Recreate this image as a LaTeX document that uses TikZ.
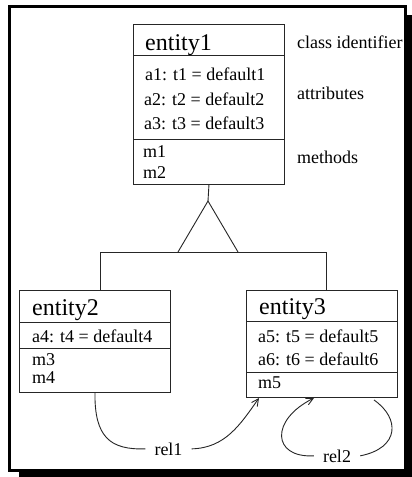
\documentclass[tikz,border=0pt]{standalone}
\usepackage{fontspec}
\setmainfont{Liberation Serif}
\usetikzlibrary{arrows.meta}
\begin{document}
\begin{tikzpicture}[x=1pt,y=-1pt,
  comp/.style={draw=black!85, line width=0.9pt, minimum width=151pt, inner sep=0pt, anchor=north west},
  big/.style={font=\fontsize{24}{28}\selectfont, anchor=base west, inner sep=0pt},
  txt/.style={font=\fontsize{18}{21}\selectfont, anchor=base west, inner sep=0pt},
  conn/.style={line width=0.9pt, draw=black!85},
  tip/.style={-{Straight Barb[length=7pt,width=7pt]}},
  rel/.style={font=\fontsize{18}{21}\selectfont, anchor=base, inner ysep=2pt, inner xsep=9pt}]
\useasboundingbox (0,0) rectangle (412,477);
% frame with shadow
\fill[black] (19,15) rectangle (412,477);
\draw[line width=3pt, fill=white] (9.5,6.5) rectangle (405.5,470.5);

% entity1
\node[comp, minimum height=31pt] (e1h) at (133,24) {};
\node[comp, minimum height=84pt] (e1a) at (133,55) {};
\node[comp, minimum height=45pt] (e1m) at (133,139) {};
\node[big] (n1) at (145,50) {entity1};
\node[txt] (a1) at (145,80) {a1: t1 = default1};
\node[txt] (a2) at (144,105) {a2: t2 = default2};
\node[txt] (a3) at (144,129) {a3: t3 = default3};
\node[txt] (m1) at (143,157) {m1};
\node[txt] (m2) at (143,178) {m2};
\node[txt] (lc) at (297,48) {class identifier};
\node[txt] (la) at (297,99) {attributes};
\node[txt] (lm) at (297,163) {methods};

% entity2
\node[comp, minimum height=32pt] (e2h) at (19,290) {};
\node[comp, minimum height=26pt] (e2a) at (19,322) {};
\node[comp, minimum height=44pt] (e2m) at (19,348) {};
\node[big] (n2) at (32,315) {entity2};
\node[txt] (a4) at (32,342) {a4: t4 = default4};
\node[txt] (m3) at (32,365) {m3};
\node[txt] (m4) at (32,383) {m4};

% entity3
\node[comp, minimum height=31pt] (e3h) at (246,290) {};
\node[comp, minimum height=51pt] (e3a) at (246,321) {};
\node[comp, minimum height=25pt] (e3m) at (246,372) {};
\node[big] (n3) at (259,314) {entity3};
\node[txt] (a5) at (258,342) {a5: t5 = default5};
\node[txt] (a6) at (258,365) {a6: t6 = default6};
\node[txt] (m5) at (258,388) {m5};

% inheritance
\coordinate (apex) at (208,201);
\coordinate (bl) at (178,252);
\coordinate (br) at (238,252);
\coordinate (hl) at (100,252);
\coordinate (hr) at (326,252);
\draw[conn] (e1m.south) -- (apex);
\draw[conn] (bl) -- (apex) -- (br);
\draw[conn] (hl) -- (hr);
\draw[conn] (hl) -- (hl |- e2h.north);
\draw[conn] (hr) -- (hr |- e3h.north);

% relationships
\node[rel] (r1) at (168.5,455) {rel1};
\coordinate (t1) at (259,398);
\draw[conn] (e2m.south) .. controls (94.5,437) and (110,450) .. (r1.west);
\draw[conn,tip] (r1.east) .. controls (225,448) and (240,425) .. (t1);

\node[rel] (r2) at (337,462) {rel2};
\coordinate (s2) at (374,400);
\coordinate (t2) at (314,398);
\draw[conn] (s2) .. controls (400,418) and (400,448) .. (r2.east);
\draw[conn,tip] (r2.west) .. controls (272,458) and (270,420) .. (t2);
\end{tikzpicture}
\end{document}
